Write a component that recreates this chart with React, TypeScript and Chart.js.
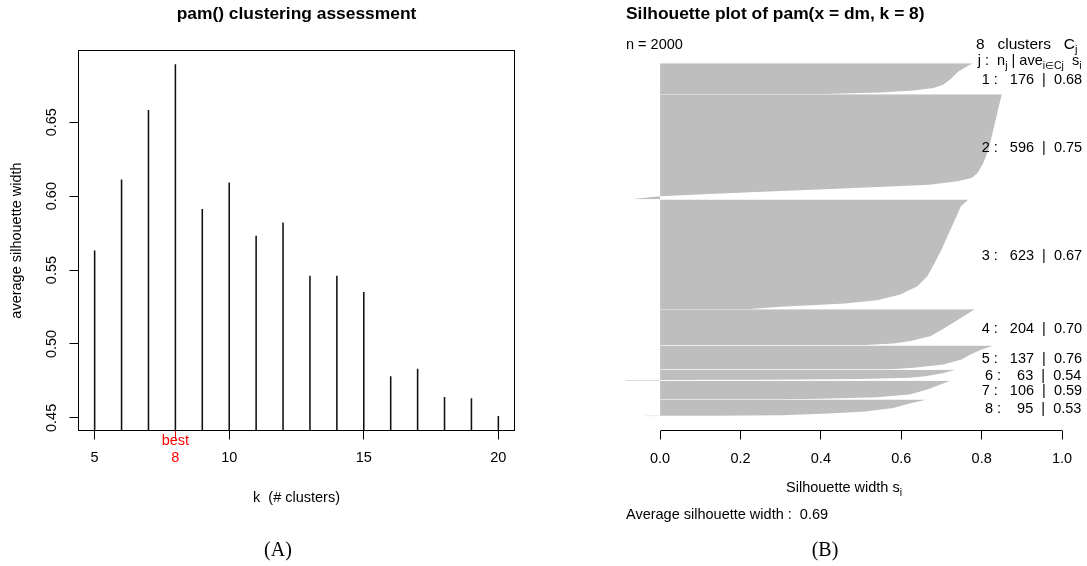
import React, { useEffect, useRef } from "react";
import { Chart, registerables } from "chart.js";

Chart.register(...registerables);

const SANS = '"Liberation Sans", Arial, Helvetica, sans-serif';
const SERIF = '"Liberation Serif", "Times New Roman", Times, serif';
const W = 1087;
const H = 566;

// ---------------- Panel A : pam() clustering assessment ----------------
const kValues = [5, 6, 7, 8, 9, 10, 11, 12, 13, 14, 15, 16, 17, 18, 19, 20];
const avgSilWidth = [0.563, 0.611, 0.658, 0.689, 0.591, 0.609, 0.573, 0.582, 0.546, 0.546, 0.535, 0.478, 0.483, 0.464, 0.463, 0.451];
const kAxisTicks = [5, 8, 10, 15, 20];
const bestK = 8;
const avgAxisTicks = [0.45, 0.5, 0.55, 0.6, 0.65];
const titleA = "pam() clustering assessment";
const yLabelA = "average silhouette width";
const xLabelA = "k  (# clusters)";

// ---------------- Panel B : silhouette plot ----------------
const clusterIds = [1, 2, 3, 4, 5, 6, 7, 8];
const clusterSizes = [176, 596, 623, 204, 137, 63, 106, 95];
const clusterAvgWidth = ["0.68", "0.75", "0.67", "0.70", "0.76", "0.54", "0.59", "0.53"];
// silhouette profile of each cluster:
// position inside the cluster (0 = first, widest bar) and silhouette width s_i
const c1Pos = [0, 19, 47, 94, 123, 141, 155, 166, 176];
const c1Sil = [0.778, 0.763, 0.742, 0.721, 0.704, 0.68, 0.63, 0.547, 0.385];
const c2Pos = [0, 201, 315, 390, 447, 475, 494, 513, 533, 554, 570, 579, 595, 596];
const c2Sil = [0.85, 0.829, 0.817, 0.804, 0.79, 0.775, 0.74, 0.67, 0.47, 0.24, 0.08, 0.0, -0.074, -0.074];
const c3Pos = [0, 40, 134, 209, 285, 360, 436, 492, 539, 572, 590, 609, 623];
const c3Sil = [0.767, 0.748, 0.73, 0.715, 0.7, 0.683, 0.665, 0.64, 0.598, 0.54, 0.46, 0.3, 0.215];
const c4Pos = [0, 39, 76, 114, 152, 181, 194, 204];
const c4Sil = [0.783, 0.755, 0.729, 0.702, 0.672, 0.62, 0.58, 0.5];
const c5Pos = [0, 23, 51, 80, 108, 127, 137];
const c5Sil = [0.83, 0.8, 0.772, 0.75, 0.705, 0.63, 0.565];
const c6Pos = [0, 22, 37, 46, 53, 57, 58, 59, 63];
const c6Sil = [0.735, 0.7, 0.66, 0.62, 0.5, 0.25, 0.1, -0.085, -0.085];
const c7Pos = [0, 22, 50, 78, 93, 102, 106];
const c7Sil = [0.722, 0.696, 0.663, 0.62, 0.54, 0.4, 0.285];
const c8Pos = [0, 19, 47, 68, 79, 88, 91, 92, 95];
const c8Sil = [0.665, 0.625, 0.58, 0.51, 0.42, 0.3, 0.13, -0.036, -0.036];
const profilePos = [c1Pos, c2Pos, c3Pos, c4Pos, c5Pos, c6Pos, c7Pos, c8Pos];
const profileSil = [c1Sil, c2Sil, c3Sil, c4Sil, c5Sil, c6Sil, c7Sil, c8Sil];
const clusterGap = 0.5;
const silAxisTicks = [0, 0.2, 0.4, 0.6, 0.8, 1.0];
const nTotal = 2000;
const overallAvgWidth = "0.69";
const titleB = "Silhouette plot of pam(x = dm, k = 8)";

// ---------------- helpers ----------------
type Part = { t: string; sub?: boolean };
function drawParts(ctx: CanvasRenderingContext2D, parts: Part[], x: number, y: number, adj: number, size: number) {
  const subSize = size * 0.72;
  const font = (s: number) => `${s}px ${SANS}`;
  const widths = parts.map((p) => {
    ctx.font = font(p.sub ? subSize : size);
    return ctx.measureText(p.t).width;
  });
  const total = widths.reduce((a, b) => a + b, 0);
  let cx = x - adj * total;
  ctx.textAlign = "left";
  ctx.textBaseline = "alphabetic";
  parts.forEach((p, i) => {
    ctx.font = font(p.sub ? subSize : size);
    ctx.fillText(p.t, cx, p.sub ? y + size * 0.28 : y);
    cx += widths[i];
  });
}

export default function App() {
  const refA = useRef<HTMLCanvasElement>(null);
  const refB = useRef<HTMLCanvasElement>(null);

  useEffect(() => {
    // ---------- Chart A ----------
    const aMin = Math.min(...avgSilWidth);
    const aMax = Math.max(...avgSilWidth);
    const aPad = 0.04 * (aMax - aMin);
    const kMin = Math.min(...kValues);
    const kMax = Math.max(...kValues);
    const kPad = 0.04 * (kMax - kMin);
    const areaA = { left: 78.5, right: 514.5, top: 50.5, bottom: 430.5 };

    const decorA = {
      id: "decorA",
      afterDraw(chart: any) {
        const { ctx, chartArea: a } = chart;
        ctx.save();
        ctx.strokeStyle = "#000";
        ctx.lineWidth = 1;
        ctx.strokeRect(a.left, a.top, a.right - a.left, a.bottom - a.top);
        ctx.fillStyle = "#000";
        ctx.textAlign = "center";
        ctx.textBaseline = "alphabetic";
        const cx = (a.left + a.right) / 2;
        ctx.font = `bold 17.4px ${SANS}`;
        ctx.fillText(titleA, cx, 19);
        ctx.font = `14.5px ${SANS}`;
        ctx.fillText(xLabelA, cx, 501.5);
        ctx.save();
        ctx.translate(21, (a.top + a.bottom) / 2);
        ctx.rotate(-Math.PI / 2);
        ctx.fillText(yLabelA, 0, 0);
        ctx.restore();
        ctx.font = `20px ${SERIF}`;
        ctx.fillText("(A)", 278, 556);
        ctx.restore();
      },
    };

    const chartA = new Chart(refA.current as HTMLCanvasElement, {
      type: "bar",
      data: {
        datasets: [
          {
            data: kValues.map((k, i) => ({ x: k, y: avgSilWidth[i] })) as any,
            backgroundColor: "#111",
            borderWidth: 0,
            barThickness: 0.9,
          },
        ],
      },
      options: {
        responsive: false,
        animation: false,
        devicePixelRatio: 1,
        events: [],
        layout: { padding: { left: 0, top: areaA.top, right: W - areaA.right, bottom: 0 } },
        plugins: { legend: { display: false }, tooltip: { enabled: false }, title: { display: false } },
        scales: {
          x: {
            type: "linear",
            offset: false,
            min: kMin - kPad,
            max: kMax + kPad,
            afterFit: (s: any) => {
              s.height = H - areaA.bottom;
            },
            afterBuildTicks: (s: any) => {
              s.ticks = kAxisTicks.map((v) => ({ value: v }));
            },
            grid: {
              offset: false,
              drawOnChartArea: false,
              drawTicks: true,
              tickLength: 9,
              lineWidth: 1,
              tickColor: (c: any) => (c.tick && c.tick.value === bestK ? "#ff0000" : "#000"),
            },
            border: { display: false },
            ticks: {
              autoSkip: false,
              minRotation: 0,
              maxRotation: 0,
              crossAlign: "far",
              padding: 1.4,
              font: { family: SANS, size: 14.5 },
              color: (c: any) => (c.tick && c.tick.value === bestK ? "#ff0000" : "#000"),
              callback: (v: any) => (v === bestK ? ["best", String(v)] : String(v)),
            },
          } as any,
          y: {
            type: "linear",
            min: aMin - aPad,
            max: aMax + aPad,
            afterFit: (s: any) => {
              s.width = areaA.left;
            },
            afterBuildTicks: (s: any) => {
              s.ticks = avgAxisTicks.map((v) => ({ value: v }));
            },
            grid: { drawOnChartArea: false, drawTicks: true, tickLength: 9, tickColor: "#000", lineWidth: 1 },
            border: { display: false },
            ticks: {
              autoSkip: false,
              minRotation: 90,
              maxRotation: 90,
              crossAlign: "center",
              padding: 3.8,
              font: { family: SANS, size: 14.5 },
              color: "#000",
              callback: (v: any) => Number(v).toFixed(2),
            },
          } as any,
        },
      },
      plugins: [decorA],
    });

    // ---------- Chart B ----------
    const allSil = profileSil.flat();
    const silMin = Math.min(0, ...allSil);
    const xPad = 0.04 * (1 - silMin);
    const total = clusterSizes.reduce((a, b) => a + b, 0) + clusterGap * (clusterSizes.length - 1);
    const offsets: number[] = [];
    let acc = 0;
    clusterSizes.forEach((n) => {
      offsets.push(acc);
      acc += n + clusterGap;
    });
    const areaB = { left: 608.5, right: 1079.5, top: 49, bottom: 430.5 };

    const datasets = clusterSizes.map((n, c) => {
      const o = offsets[c];
      const pts = [{ x: 0, y: o }]
        .concat(profilePos[c].map((p, i) => ({ x: profileSil[c][i], y: o + p })))
        .concat([{ x: 0, y: o + n }]);
      return {
        data: pts,
        showLine: true,
        fill: "origin",
        backgroundColor: "#bebebe",
        borderColor: "rgba(0,0,0,0)",
        borderWidth: 0,
        pointRadius: 0,
        tension: 0,
      };
    });

    const decorB = {
      id: "decorB",
      afterDraw(chart: any) {
        const { ctx, chartArea: a } = chart;
        const xs = chart.scales.x;
        const ys = chart.scales.y;
        ctx.save();
        // axis line spanning the tick range
        const x0 = Math.round(xs.getPixelForValue(silAxisTicks[0]) - 0.5) + 0.5;
        const x1 = Math.round(xs.getPixelForValue(silAxisTicks[silAxisTicks.length - 1]) - 0.5) + 0.5;
        ctx.strokeStyle = "#000";
        ctx.lineWidth = 1;
        ctx.beginPath();
        ctx.moveTo(x0, a.bottom);
        ctx.lineTo(x1, a.bottom);
        ctx.stroke();

        ctx.fillStyle = "#000";
        const leftText = a.left + 17.5;
        ctx.textAlign = "left";
        ctx.textBaseline = "alphabetic";
        ctx.font = `bold 17.4px ${SANS}`;
        ctx.fillText(titleB, leftText, 19);
        ctx.font = `14.5px ${SANS}`;
        ctx.fillText(`n = ${nTotal}`, leftText, 48.5);
        ctx.fillText(`Average silhouette width :  ${overallAvgWidth}`, leftText, 519);

        drawParts(ctx, [{ t: `${clusterIds.length}   clusters   C` }, { t: "j", sub: true }], a.right - 2, 48.5, 1, 15.5);
        drawParts(
          ctx,
          [
            { t: "j :  n" },
            { t: "j", sub: true },
            { t: " | ave" },
            { t: "i\u2208Cj", sub: true },
            { t: "  s" },
            { t: "i", sub: true },
          ],
          a.right + 2,
          64.5,
          1,
          14.5
        );
        // x label
        drawParts(ctx, [{ t: "Silhouette width s" }, { t: "i", sub: true }], (a.left + a.right) / 2, 492, 0.5, 14.5);

        // cluster statistics
        const xOne = xs.getPixelForValue(1);
        ctx.font = `14.5px ${SANS}`;
        clusterSizes.forEach((n, c) => {
          const yc = ys.getPixelForValue(offsets[c] + n / 2);
          const label = `${clusterIds[c]} :   ${String(n).padStart(3, " ")}  |  ${clusterAvgWidth[c]}`;
          const w = ctx.measureText(label).width;
          ctx.textAlign = "left";
          ctx.fillText(label, xOne - 0.8 * w, yc + 5.2);
        });

        ctx.textAlign = "center";
        ctx.font = `20px ${SERIF}`;
        ctx.fillText("(B)", 825, 556);
        ctx.restore();
      },
    };

    const chartB = new Chart(refB.current as HTMLCanvasElement, {
      type: "scatter",
      data: { datasets: datasets as any },
      options: {
        responsive: false,
        animation: false,
        devicePixelRatio: 1,
        events: [],
        indexAxis: "y",
        layout: { padding: { left: areaB.left, top: areaB.top, right: W - areaB.right, bottom: 0 } },
        plugins: { legend: { display: false }, tooltip: { enabled: false }, title: { display: false } },
        scales: {
          x: {
            type: "linear",
            position: "bottom",
            min: silMin - xPad,
            max: 1 + xPad,
            afterFit: (s: any) => {
              s.height = H - areaB.bottom;
            },
            afterBuildTicks: (s: any) => {
              s.ticks = silAxisTicks.map((v) => ({ value: v }));
            },
            grid: { drawOnChartArea: false, drawTicks: true, tickLength: 9, tickColor: "#000", lineWidth: 1 },
            border: { display: false },
            ticks: {
              autoSkip: false,
              minRotation: 0,
              maxRotation: 0,
              padding: 11,
              font: { family: SANS, size: 14.5 },
              color: "#000",
              callback: (v: any) => Number(v).toFixed(1),
            },
          } as any,
          y: {
            type: "linear",
            display: false,
            reverse: true,
            min: -0.04 * total,
            max: total * 1.04,
          } as any,
        },
      },
      plugins: [decorB],
    });

    return () => {
      chartA.destroy();
      chartB.destroy();
    };
  }, []);

  return (
    <div style={{ position: "absolute", left: 0, top: 0, width: W, height: H, background: "#fff" }}>
      <canvas ref={refA} width={W} height={H} style={{ position: "absolute", left: 0, top: 0 }} />
      <canvas ref={refB} width={W} height={H} style={{ position: "absolute", left: 0, top: 0 }} />
    </div>
  );
}
